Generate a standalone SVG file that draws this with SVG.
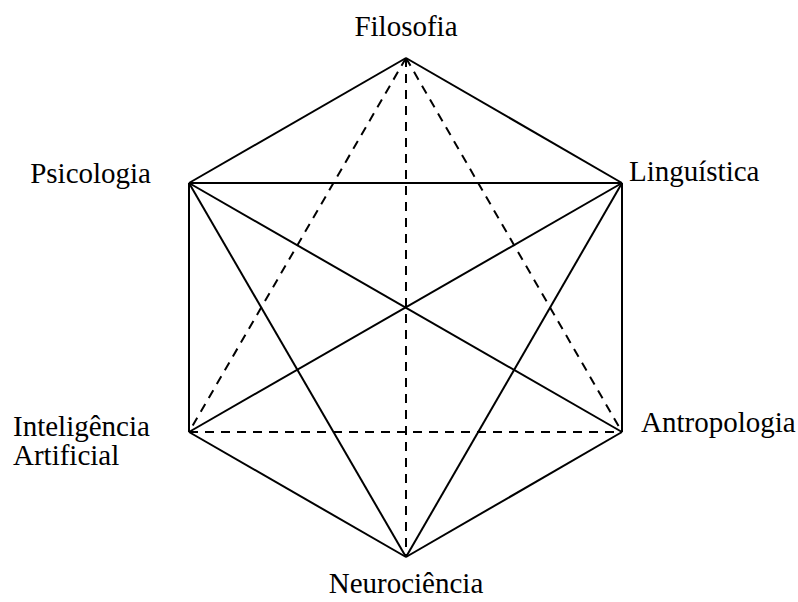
<svg xmlns="http://www.w3.org/2000/svg" width="798" height="602" viewBox="0 0 798 602">
<style>
text{font-family:"Liberation Serif","Times New Roman",serif;font-size:29px;fill:#000}
.s{stroke:#000;stroke-width:2;fill:none}
.d{stroke:#000;stroke-width:2;fill:none;stroke-dasharray:9,7}
</style>
<rect width="798" height="602" fill="#fff"/>
<g id="connectors">
<line class="s" x1="406" y1="58" x2="189" y2="183"/>
<line class="s" x1="406" y1="58" x2="622" y2="183"/>
<line class="s" x1="189" y1="183" x2="189" y2="432"/>
<line class="s" x1="622" y1="183" x2="622" y2="432"/>
<line class="s" x1="189" y1="432" x2="406" y2="557"/>
<line class="s" x1="622" y1="432" x2="406" y2="557"/>
<line class="s" x1="189" y1="183" x2="622" y2="183"/>
<line class="s" x1="189" y1="183" x2="622" y2="432"/>
<line class="s" x1="622" y1="183" x2="189" y2="432"/>
<line class="s" x1="189" y1="183" x2="406" y2="557"/>
<line class="s" x1="622" y1="183" x2="406" y2="557"/>
<line class="d" x1="406" y1="58" x2="189" y2="432"/>
<line class="d" x1="406" y1="58" x2="622" y2="432"/>
<line class="d" x1="406" y1="58" x2="406" y2="557"/>
<line class="d" x1="189" y1="432" x2="622" y2="432"/>
</g>
<g id="filosofia"><text x="406" y="36" text-anchor="middle">Filosofia</text></g>
<g id="psicologia"><text x="151" y="183" text-anchor="end">Psicologia</text></g>
<g id="linguistica"><text x="629" y="181">Linguística</text></g>
<g id="ia"><text x="13" y="436">Inteligência</text><text x="13" y="465">Artificial</text></g>
<g id="antropologia"><text x="641" y="432">Antropologia</text></g>
<g id="neurociencia"><text x="406" y="593" text-anchor="middle">Neurociência</text></g>
</svg>
